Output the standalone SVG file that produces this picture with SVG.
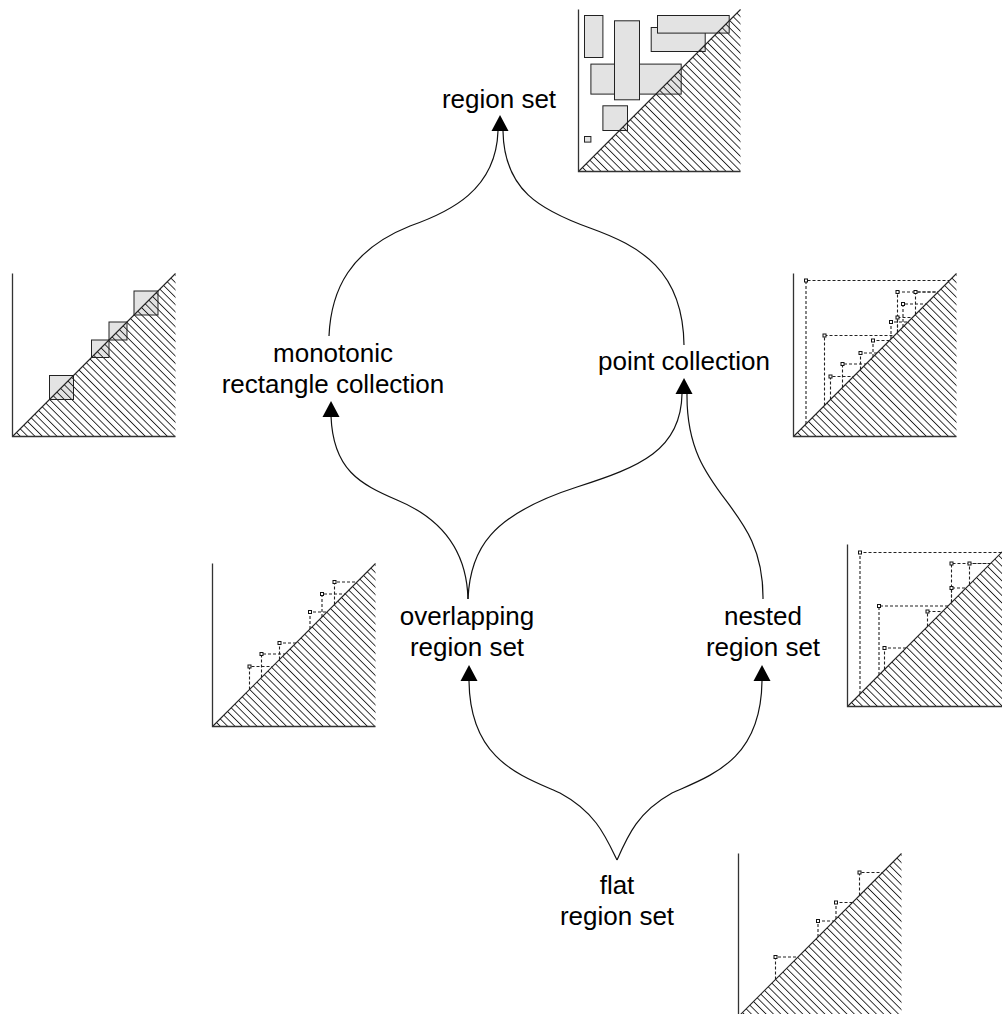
<svg xmlns="http://www.w3.org/2000/svg" xmlns:xlink="http://www.w3.org/1999/xlink" width="1002" height="1014" viewBox="0 0 1002 1014">
<style>
.ax{stroke:#333;stroke-width:1.3;fill:none}
.diag{stroke:#222;stroke-width:1.1;fill:none}
.hatch{fill:url(#hatch);stroke:none}
.dash{stroke:#222;stroke-width:1.1;stroke-dasharray:3 2;fill:none}
.pt{fill:#fff;stroke:#111;stroke-width:1}
.box{fill:#e3e3e3;stroke:#222;stroke-width:1}
.conn{fill:none;stroke:#111;stroke-width:1.2}
.lbl{font-family:"Liberation Sans",Arial,sans-serif;font-size:26px;text-anchor:middle;fill:#000}
</style>
<defs>
<pattern id="hatch" patternUnits="userSpaceOnUse" width="5.2" height="10" patternTransform="rotate(-45)">
<rect x="0" y="0" width="0.9" height="10" fill="#222"/>
</pattern>
<path id="ah" d="M0,0 L-8.5,16 L8.5,16 Z" fill="#000"/>
<rect id="mk" x="-1.5" y="-1.5" width="3" height="3" class="pt"/>
</defs>

<g id="connectors">
<path class="conn" d="M329,336 C331,290 350,250 410,226 C450,212 496,190 498,131"/>
<path class="conn" d="M684,345 C683,270 640,246 590,228 C540,210 504,190 503,131"/>
<path class="conn" d="M468,599 C467,560 450,522 397,500 C360,484 333,470 331,416"/>
<path class="conn" d="M468,599 C470,550 490,515 577,487 C640,467 681,450 682,394"/>
<path class="conn" d="M763,599 C764,500 686,500 687,394"/>
<path class="conn" d="M617,860 C605,835 595,812 560,793 C520,775 470,760 469,681"/>
<path class="conn" d="M617,860 C628,835 638,812 672,793 C712,775 761,760 762,681"/>
<use xlink:href="#ah" x="500" y="115"/>
<use xlink:href="#ah" x="331" y="401"/>
<use xlink:href="#ah" x="684" y="378"/>
<use xlink:href="#ah" x="469" y="665"/>
<use xlink:href="#ah" x="762" y="665"/>
</g>

<g id="node-region-set">
<text class="lbl" x="499" y="108">region set</text>
<g transform="translate(578.5,171.5)">
<rect class="box" x="6" y="-156" width="18.4" height="42"/>
<rect class="box" x="12.4" y="-107.4" width="90.3" height="30"/>
<rect class="box" x="36" y="-150.7" width="25" height="79"/>
<rect class="box" x="72.7" y="-144" width="54" height="24"/>
<rect class="box" x="79" y="-156" width="71.7" height="17.6"/>
<rect class="box" x="24.4" y="-65.7" width="24.6" height="24.7"/>
<rect class="box" x="6" y="-35" width="6.4" height="5.6"/>
<polygon class="hatch" points="0,0 162,-162 162,0"/>
<line class="diag" x1="0" y1="0" x2="162" y2="-162"/>
<path class="ax" d="M0,-162 V0 H162"/>
</g>
</g>

<g id="node-monotonic">
<text class="lbl" x="333" y="362">monotonic</text>
<text class="lbl" x="333" y="393">rectangle collection</text>
<g transform="translate(12.5,436.5)">
<rect class="box" x="37" y="-61" width="24" height="24"/>
<rect class="box" x="79" y="-96.5" width="17.5" height="17.5"/>
<rect class="box" x="96.5" y="-114.5" width="18" height="18"/>
<rect class="box" x="121.5" y="-145.5" width="24" height="24"/>
<polygon class="hatch" points="0,0 163,-163 163,0"/>
<line class="diag" x1="0" y1="0" x2="163" y2="-163"/>
<path class="ax" d="M0,-163 V0 H163"/>
</g>
</g>

<g id="node-point-collection">
<text class="lbl" x="684" y="370">point collection</text>
<g transform="translate(793.5,436.5)">
<polygon class="hatch" points="0,0 163,-163 163,0"/>
<path class="dash" d="M12.5,-12.5 V-156 H156"/>
<path class="dash" d="M31,-31 V-101 H101"/>
<path class="dash" d="M37,-37 V-60 H60"/>
<path class="dash" d="M49,-49 V-72.5 H72.5"/>
<path class="dash" d="M67,-67 V-83.5 H83.5"/>
<path class="dash" d="M79.5,-79.5 V-96 H96"/>
<path class="dash" d="M97.5,-97.5 V-114.5 H114.5"/>
<path class="dash" d="M104,-104 V-144.5 H144.5"/>
<path class="dash" d="M122,-122 V-144.5 H144.5"/>
<path class="dash" d="M109.5,-109.5 V-132.5 H132.5"/>
<path class="dash" d="M104,-104 V-119 H119"/>
<use xlink:href="#mk" x="12.5" y="-156"/>
<use xlink:href="#mk" x="31" y="-101"/>
<use xlink:href="#mk" x="37" y="-60"/>
<use xlink:href="#mk" x="49" y="-72.5"/>
<use xlink:href="#mk" x="67" y="-83.5"/>
<use xlink:href="#mk" x="79.5" y="-96"/>
<use xlink:href="#mk" x="97.5" y="-114.5"/>
<use xlink:href="#mk" x="104" y="-144.5"/>
<use xlink:href="#mk" x="122" y="-144.5"/>
<use xlink:href="#mk" x="109.5" y="-132.5"/>
<use xlink:href="#mk" x="104" y="-119"/>
<line class="diag" x1="0" y1="0" x2="163" y2="-163"/>
<path class="ax" d="M0,-163 V0 H163"/>
</g>
</g>

<g id="node-overlapping">
<text class="lbl" x="467" y="625">overlapping</text>
<text class="lbl" x="467" y="656">region set</text>
<g transform="translate(212.5,726.5)">
<polygon class="hatch" points="0,0 163,-163 163,0"/>
<path class="dash" d="M37,-37 V-60 H60"/>
<path class="dash" d="M49,-49 V-72.5 H72.5"/>
<path class="dash" d="M67,-67 V-83.5 H83.5"/>
<path class="dash" d="M97.5,-97.5 V-114.5 H114.5"/>
<path class="dash" d="M109.5,-109.5 V-132.5 H132.5"/>
<path class="dash" d="M122,-122 V-144.5 H144.5"/>
<use xlink:href="#mk" x="37" y="-60"/>
<use xlink:href="#mk" x="49" y="-72.5"/>
<use xlink:href="#mk" x="67" y="-83.5"/>
<use xlink:href="#mk" x="97.5" y="-114.5"/>
<use xlink:href="#mk" x="109.5" y="-132.5"/>
<use xlink:href="#mk" x="122" y="-144.5"/>
<line class="diag" x1="0" y1="0" x2="163" y2="-163"/>
<path class="ax" d="M0,-163 V0 H163"/>
</g>
</g>

<g id="node-nested">
<text class="lbl" x="763" y="625">nested</text>
<text class="lbl" x="763" y="656">region set</text>
<g transform="translate(847.5,706.5)">
<polygon class="hatch" points="0,0 162,-162 162,0"/>
<path class="dash" d="M12.5,-12.5 V-154 H154"/>
<path class="dash" d="M104,-104 V-143 H143"/>
<path class="dash" d="M122,-122 V-143 H143"/>
<path class="dash" d="M104,-104 V-118.5 H118.5"/>
<path class="dash" d="M31.5,-31.5 V-100.5 H100.5"/>
<path class="dash" d="M80,-80 V-95 H95"/>
<path class="dash" d="M37,-37 V-58.5 H58.5"/>
<use xlink:href="#mk" x="12.5" y="-154"/>
<use xlink:href="#mk" x="104" y="-143"/>
<use xlink:href="#mk" x="122" y="-143"/>
<use xlink:href="#mk" x="104" y="-118.5"/>
<use xlink:href="#mk" x="31.5" y="-100.5"/>
<use xlink:href="#mk" x="80" y="-95"/>
<use xlink:href="#mk" x="37" y="-58.5"/>
<line class="diag" x1="0" y1="0" x2="162" y2="-162"/>
<path class="ax" d="M0,-162 V0 H162"/>
</g>
</g>

<g id="node-flat">
<text class="lbl" x="617" y="894">flat</text>
<text class="lbl" x="617" y="925">region set</text>
<g transform="translate(738.5,1016.5)">
<polygon class="hatch" points="0,0 163,-163 163,0"/>
<path class="dash" d="M37,-37 V-59.5 H59.5"/>
<path class="dash" d="M79.5,-79.5 V-95.5 H95.5"/>
<path class="dash" d="M97.5,-97.5 V-114 H114"/>
<path class="dash" d="M121,-121 V-144 H144"/>
<use xlink:href="#mk" x="37" y="-59.5"/>
<use xlink:href="#mk" x="79.5" y="-95.5"/>
<use xlink:href="#mk" x="97.5" y="-114"/>
<use xlink:href="#mk" x="121" y="-144"/>
<line class="diag" x1="0" y1="0" x2="163" y2="-163"/>
<path class="ax" d="M0,-163 V0 H163"/>
</g>
</g>
</svg>
